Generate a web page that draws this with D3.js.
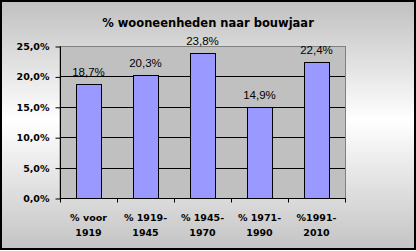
<!DOCTYPE html>
<html lang="nl">
<head>
	<meta charset="UTF-8" />
	<script src="https://d3js.org/d3.v7.min.js"></script>
	<style type="text/css">
		body { margin: 0; background: #fff; }
		svg { display: block; }
	</style>
	<title>wooneenheden</title>
</head>
<body>
<script type="text/javascript">
	// data
	var categories = [["% voor", "1919"], ["% 1919-", "1945"], ["% 1945-", "1970"], ["% 1971-", "1990"], ["%1991-", "2010"]];
	var values = [18.7, 20.3, 23.8, 14.9, 22.4];
	var yTicks = [0, 5, 10, 15, 20, 25];

	var W = 416, H = 251;
	var plot = {left: 60, right: 345, top: 46, bottom: 198};

	var svg = d3.select("body").append("svg")
		.attr("width", W)
		.attr("height", H);

	// background gradient
	var grad = svg.append("defs").append("linearGradient")
		.attr("id", "bg")
		.attr("x1", 0).attr("y1", 0).attr("x2", 0).attr("y2", 1);
	grad.append("stop").attr("offset", "0%").attr("stop-color", "#c0c0c0");
	grad.append("stop").attr("offset", "48%").attr("stop-color", "#ffffff");
	grad.append("stop").attr("offset", "100%").attr("stop-color", "#c4c4c4");

	svg.append("rect")
		.attr("x", 1).attr("y", 1)
		.attr("width", W - 2).attr("height", H - 3)
		.attr("fill", "url(#bg)")
		.attr("stroke", "#000")
		.attr("stroke-width", 2);

	// scales
	var xScale = d3.scaleBand()
		.domain(d3.range(categories.length))
		.range([plot.left, plot.right])
		.padding(0);

	var yScale = d3.scaleLinear()
		.domain([0, 25])
		.range([plot.bottom, plot.top]);

	// plot area
	svg.append("rect")
		.attr("x", plot.left).attr("y", plot.top + 0.5)
		.attr("width", plot.right - plot.left + 0.5)
		.attr("height", plot.bottom - plot.top)
		.attr("fill", "#c0c0c0")
		.attr("stroke", "#808080")
		.attr("stroke-width", 1);

	// gridlines
	svg.selectAll(".grid")
		.data(yTicks.filter(function(d) { return d > 0 && d < 25; }))
		.enter()
		.append("line")
		.attr("x1", plot.left)
		.attr("x2", plot.right)
		.attr("y1", function(d) { return Math.round(yScale(d)) + 0.5; })
		.attr("y2", function(d) { return Math.round(yScale(d)) + 0.5; })
		.attr("stroke", "#000")
		.attr("stroke-width", 1);

	// bars
	var barW = 25;
	svg.selectAll(".bar")
		.data(values)
		.enter()
		.append("rect")
		.attr("class", "bar")
		.attr("x", function(d, i) { return Math.round(xScale(i) + (xScale.bandwidth() - barW) / 2) + 0.5; })
		.attr("y", function(d) { return Math.round(yScale(d)) + 0.5; })
		.attr("width", barW)
		.attr("height", function(d) { return Math.round(plot.bottom - yScale(d)); })
		.attr("fill", "#9999ff")
		.attr("stroke", "#000")
		.attr("stroke-width", 1);

	// value labels
	svg.selectAll(".lbl")
		.data(values)
		.enter()
		.append("text")
		.attr("x", function(d, i) { return xScale(i) + xScale.bandwidth() / 2; })
		.attr("y", function(d) { return yScale(d) - 8; })
		.attr("text-anchor", "middle")
		.attr("font-family", "Liberation Sans, Arial, sans-serif")
		.attr("font-size", "11.5px")
		.attr("fill", "#000")
		.text(function(d) { return d.toFixed(1).replace(".", ",") + "%"; });

	// y axis
	var yAxis = d3.axisLeft(yScale)
		.tickValues(yTicks)
		.tickSize(5)
		.tickPadding(6)
		.tickFormat(function(d) { return d.toFixed(1).replace(".", ",") + "%"; });

	var gy = svg.append("g")
		.attr("transform", "translate(" + (plot.left + 0.5) + ",0.5)")
		.call(yAxis);
	gy.select(".domain").attr("stroke", "#000").attr("d", "M0," + plot.top + "V" + plot.bottom);
	gy.selectAll("text")
		.attr("font-family", "DejaVu Sans, sans-serif")
		.attr("font-weight", "bold")
		.attr("font-size", "9.5px")
		.attr("fill", "#000");

	// x axis
	var gx = svg.append("g")
		.attr("transform", "translate(0," + (plot.bottom + 0.5) + ")");
	gx.append("line")
		.attr("x1", plot.left).attr("x2", plot.right + 1)
		.attr("stroke", "#000");
	gx.selectAll(".tick")
		.data(d3.range(categories.length + 1))
		.enter()
		.append("line")
		.attr("x1", function(i) { return Math.round(plot.left + i * xScale.step()) + 0.5; })
		.attr("x2", function(i) { return Math.round(plot.left + i * xScale.step()) + 0.5; })
		.attr("y1", 0).attr("y2", 4)
		.attr("stroke", "#000");

	var cat = gx.selectAll(".cat")
		.data(categories)
		.enter()
		.append("text")
		.attr("text-anchor", "middle")
		.attr("font-family", "DejaVu Sans, sans-serif")
		.attr("font-weight", "bold")
		.attr("font-size", "9.5px")
		.attr("fill", "#000");
	cat.selectAll("tspan")
		.data(function(d, i) { return d.map(function(t) { return {t: t, i: i}; }); })
		.enter()
		.append("tspan")
		.attr("x", function(d) { return xScale(d.i) + xScale.bandwidth() / 2; })
		.attr("y", function(d, j) { return 22 + j * 15; })
		.text(function(d) { return d.t; });

	// title
	svg.append("text")
		.attr("x", W / 2)
		.attr("y", 27)
		.attr("text-anchor", "middle")
		.attr("font-family", "DejaVu Sans, sans-serif")
		.attr("font-weight", "bold")
		.attr("font-size", "11.5px")
		.attr("fill", "#000")
		.text("% wooneenheden naar bouwjaar");
</script>
</body>
</html>
